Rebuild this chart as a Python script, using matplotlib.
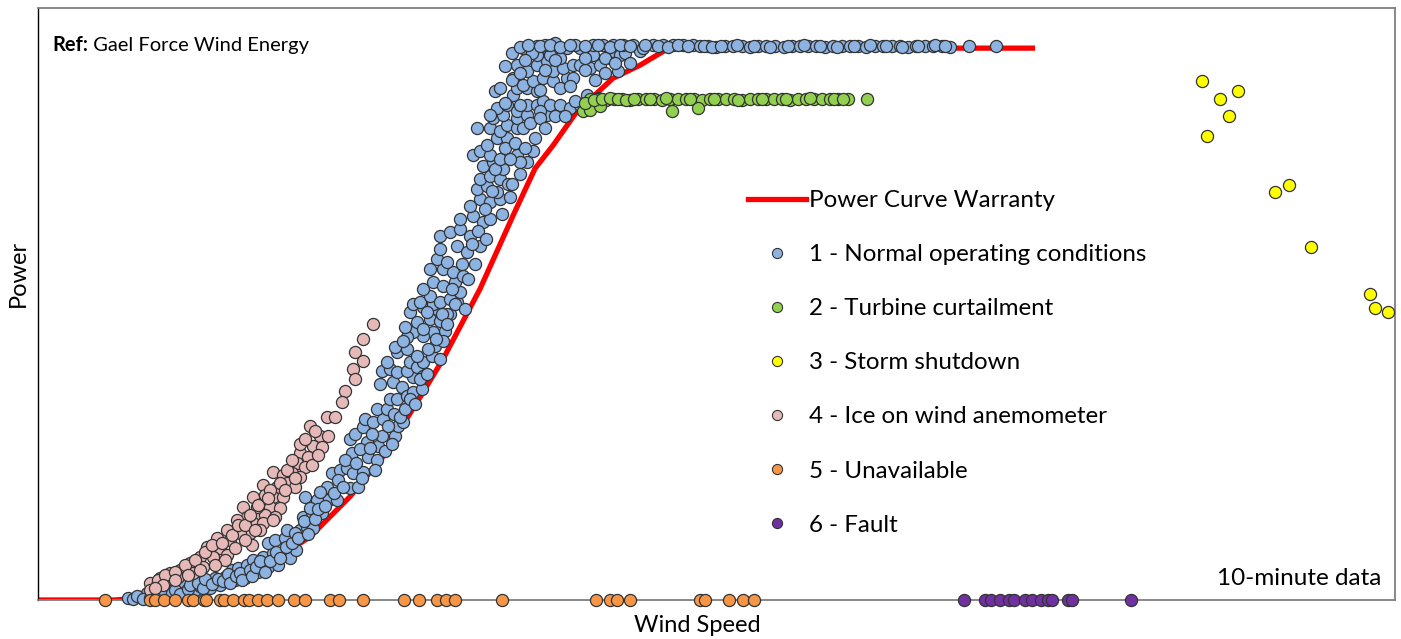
import numpy as np
import matplotlib
matplotlib.use('Agg')
import matplotlib.pyplot as plt
from matplotlib.lines import Line2D

plt.rcParams['font.family'] = ['Lato', 'DejaVu Sans']

# warranty power curve (wind speed m/s, power kW)
warranty_ws = [0.76, 2.3, 3.0, 4.0, 5.0, 5.8, 6.2, 7.0, 7.66, 8.34, 8.86, 9.6, 10.26,
               10.7, 11.06, 11.54, 12.26, 12.8, 13.34, 13.6, 20.7]
warranty_kw = [0, 0, 12, 56, 112, 200, 252, 412, 572, 788, 960, 1240, 1532,
               1720, 1812, 1948, 2080, 2132, 2196, 2200, 2200]

# 1 - normal operation: ramp-up part
normal_ws = [2.56, 2.66, 2.80, 2.94, 3.04, 3.14, 3.20, 3.34, 3.40, 3.54, 3.66, 3.70, 3.84, 3.90,
             4.00, 4.14, 4.20, 4.30, 4.40, 4.50, 4.64, 4.70, 4.76, 4.90, 4.94, 5.10, 5.16, 5.26,
             5.36, 5.46, 5.56, 5.64, 5.80, 5.06, 5.26, 5.46, 5.36, 5.50, 5.70, 5.74, 5.92, 6.00,
             6.14, 6.26, 6.06, 6.24, 6.44, 6.56, 6.74, 6.34, 6.10, 6.20, 6.54, 6.64, 6.80, 6.94,
             7.06, 7.26, 7.00, 7.16, 7.04, 7.00, 7.10, 7.26, 7.34, 7.36, 7.54, 7.56, 7.30, 7.46,
             7.66, 7.64, 7.90, 7.96, 8.06, 7.54, 7.74, 7.80, 7.94, 7.60, 7.86, 8.04, 8.14, 8.26,
             8.44, 8.26, 7.64, 7.80, 7.94, 8.14, 8.20, 8.34, 8.46, 8.46, 7.74, 7.94, 8.14, 8.34,
             8.64, 8.70, 8.90, 8.66, 8.46, 8.26, 8.14, 8.10, 8.34, 8.60, 8.80, 9.00, 8.74, 8.46,
             8.20, 8.26, 8.66, 9.14, 7.90, 8.06, 8.46, 8.86, 8.54, 8.94, 8.40, 8.60, 8.80, 9.00,
             9.20, 8.46, 8.66, 8.86, 9.10, 8.60, 8.86, 9.06, 9.26, 8.74, 8.94, 8.80, 9.14, 9.34,
             8.80, 9.00, 9.20, 9.40, 9.60, 9.20, 9.46, 9.66, 9.80, 9.40, 9.60, 9.80, 10.00, 10.20,
             9.54, 9.74, 9.94, 9.60, 9.80, 10.00, 10.16, 9.66, 9.86, 10.06, 9.46, 9.60, 9.80, 9.74,
             9.94, 10.14, 10.34, 10.54, 10.66, 10.40, 9.54, 9.80, 10.00, 10.14, 10.34, 9.86, 10.06,
             10.34, 9.94, 10.14, 10.34, 10.54, 9.80, 10.54, 10.74, 10.94, 10.86, 10.94, 11.00,
             11.20, 11.40, 11.60, 11.74, 10.40, 10.80, 9.90, 10.26, 10.34, 10.54, 10.74, 10.26,
             10.46, 10.66, 10.86, 11.06, 11.34, 11.46, 10.34, 10.54, 10.74, 10.94, 11.06, 11.26,
             11.46, 11.60, 11.80, 12.00, 12.20, 12.36, 11.86, 12.26, 12.40, 10.46, 10.74, 10.94,
             11.14, 11.34, 10.74, 11.00, 11.20, 11.60,
             2.74, 2.86, 3.00, 3.10, 3.24, 3.30, 3.44, 3.50, 3.60, 3.76, 3.80, 3.96, 4.06, 4.10,
             4.24, 4.36, 4.46, 4.56, 4.60, 4.72, 4.80, 4.84, 5.00, 5.04, 5.12, 5.20, 5.30, 5.40,
             5.52, 5.60, 5.72, 5.84, 5.90, 5.96, 6.08, 6.16, 6.30, 6.36, 6.50, 6.40, 6.68, 6.76,
             6.86, 6.90, 7.12, 7.20, 7.24, 7.40, 7.44, 7.50, 7.70, 7.76, 7.84, 7.88, 8.00, 8.10,
             8.20, 8.30, 8.40, 8.54, 8.56, 8.72, 8.80, 8.84, 8.94, 9.04, 9.10, 9.24, 9.30, 9.36,
             9.44, 9.50, 9.56, 9.70, 9.72, 9.84, 9.90, 10.00, 10.04, 10.10, 10.20, 10.24, 10.30,
             10.40, 10.46, 10.50, 10.60, 10.70, 10.80, 10.90, 11.10, 11.30, 11.50, 11.80, 11.96,
             10.10, 10.24, 10.40, 10.64, 10.90, 11.10, 11.20, 11.40, 11.70, 11.90, 12.10, 12.30,
             12.50, 12.60, 10.90, 11.10, 11.50, 11.70, 12.10, 10.80, 10.00, 10.10, 10.24, 10.50]
normal_kw = [8, 4, 12, 28, 16, 40, 24, 40, 20, 52, 60, 32, 68, 40,
             56, 72, 48, 88, 60, 92, 120, 80, 128, 88, 140, 148, 112, 168,
             132, 172, 140, 188, 168, 160, 172, 188, 228, 240, 248, 280, 200, 280,
             292, 288, 332, 348, 348, 400, 400, 400, 412, 368, 452, 508, 520, 528,
             508, 512, 448, 452, 588, 640, 660, 688, 628, 572, 560, 612, 720, 708,
             720, 652, 652, 692, 708, 760, 760, 800, 800, 860, 868, 848, 812, 828,
             840, 888, 912, 920, 908, 912, 948, 928, 948, 892, 948, 988, 1000, 972,
             972, 1012, 1072, 1068, 1052, 1068, 1048, 1088, 1108, 1120, 1112, 1140, 1160, 1168,
             1148, 1180, 1180, 1188, 1008, 1032, 1080, 1032, 1148, 1140, 1188, 1212, 1188, 1200,
             1228, 1240, 1268, 1252, 1268, 1320, 1320, 1308, 1292, 1360, 1348, 1400, 1412, 1388,
             1452, 1468, 1480, 1452, 1412, 1520, 1532, 1508, 1520, 1572, 1600, 1588, 1600, 1608,
             1640, 1652, 1628, 1680, 1692, 1680, 1660, 1732, 1748, 1720, 1772, 1788, 1772, 1812,
             1840, 1840, 1772, 1748, 1788, 1748, 1880, 1880, 1868, 1892, 1880, 1920, 1932,
             1920, 1960, 1972, 1948, 1932, 1932, 1972, 1972, 1960, 1988, 1932, 1972,
             1972, 1960, 1972, 2012, 1972, 1948, 2028, 2012, 2040, 2040, 2028, 2080,
             2052, 2068, 2080, 2068, 2080, 2080, 2132, 2108, 2132, 2148, 2108, 2120,
             2132, 2132, 2120, 2132, 2160, 2108, 2172, 2188, 2172, 2200, 2208, 2200,
             2188, 2200, 2172, 2172, 2160, 2200,
             16, 4, 8, 12, 12, 32, 28, 40, 24, 44, 60, 68, 48, 84,
             64, 84, 76, 104, 68, 96, 108, 80, 120, 96, 132, 156, 112, 156,
             192, 168, 212, 228, 268, 248, 316, 264, 324, 364, 376, 432, 428, 480,
             452, 560, 548, 600, 488, 604, 660, 520, 592, 692, 620, 740, 728, 760,
             800, 780, 880, 900, 1000, 1040, 960, 1140, 1100, 1240, 1180, 1340, 1160, 1280,
             1420, 1340, 1472, 1560, 1440, 1632, 1720, 1760, 1540, 1800, 1760, 1660, 1820,
             1700, 1880, 1800, 1900, 1840, 1920, 1880, 1928, 1928, 1988, 1972, 2000,
             1980, 2072, 2100, 2180, 2112, 2152, 2040, 2048, 2112, 2072, 2160, 2140,
             2180, 2140, 2212, 2220, 2212, 2160, 2100, 2032, 2040, 2128, 2180, 2152]

# 1 - normal operation: at rated power
rated_ws = [11.86, 12.06, 12.26, 12.46, 12.66, 12.80, 12.86, 13.06, 13.26, 13.46, 13.66, 13.86,
            14.00, 14.16, 14.32, 14.50, 14.66, 14.84, 15.00, 15.16, 15.32, 15.50, 15.68, 15.84,
            16.00, 16.16, 16.32, 16.50, 16.66, 16.84, 17.00, 17.16, 17.32, 17.50, 17.66, 17.84,
            18.00, 18.16, 18.32, 18.50, 18.66, 18.84, 19.00, 19.38, 19.92,
            10.40, 10.56, 10.80, 11.00, 11.20, 11.40, 11.70, 11.96, 12.20, 12.40, 12.60, 12.90,
            13.16, 13.36, 13.56, 13.76, 14.08, 14.24, 14.42, 14.74, 15.08, 15.40, 15.76, 16.08,
            16.40, 16.74, 17.08, 17.40, 17.72, 18.04, 18.36, 18.70, 18.90]
rated_kw = [2212, 2212, 2212, 2212, 2212, 2188, 2200, 2212, 2212, 2212, 2212, 2212,
            2210, 2210, 2206, 2210, 2210, 2210, 2206, 2210, 2210, 2210, 2206, 2210,
            2210, 2210, 2210, 2206, 2210, 2210, 2210, 2210, 2206, 2210, 2210, 2210,
            2210, 2206, 2210, 2210, 2210, 2210, 2206, 2210, 2210,
            2204, 2212, 2208, 2212, 2204, 2212, 2208, 2212, 2204, 2212, 2208, 2212,
            2210, 2206, 2212, 2210, 2210, 2206, 2210, 2212, 2210, 2206, 2210, 2212,
            2210, 2206, 2210, 2212, 2210, 2206, 2210, 2212, 2210]

# 2 - curtailment
curt_ws = [11.80, 11.96, 12.12, 12.28, 12.44, 12.60, 12.76, 12.92, 13.08, 13.24, 13.40, 13.56,
           13.72, 13.88, 14.04, 14.20, 14.36, 14.52, 14.68, 14.84, 15.00, 15.16, 15.32, 15.48,
           15.64, 15.80, 15.96, 16.12, 16.28, 16.44, 16.60, 16.76, 16.96, 17.34,
           11.66, 11.80, 12.00, 13.44, 13.96, 11.70,
           11.88, 12.04, 12.20, 12.36, 12.52, 12.68, 13.00, 13.32, 13.80, 14.28, 14.76, 15.24,
           15.72, 16.20, 16.68, 16.86]
curt_kw = [1996, 1996, 1992, 1996, 1996, 1992, 1996, 1996, 1996, 1992, 1996, 1996,
           1996, 1996, 1992, 1996, 1996, 1996, 1996, 1992, 1996, 1996, 1996, 1996,
           1996, 1992, 1996, 1996, 1996, 1996, 1996, 1996, 1996, 1996,
           1948, 1952, 1968, 1948, 1960, 1980,
           1992, 1996, 2000, 1996, 1992, 1996, 1996, 2000, 1996, 1996, 1992, 1996,
           1996, 2000, 1996, 1996]

# 3 - storm shutdown
storm_ws = [24.04, 24.76, 24.40, 24.58, 24.14, 25.78, 25.50, 26.22, 27.40, 27.50, 27.76]
storm_kw = [2068, 2028, 1996, 1928, 1848, 1656, 1628, 1408, 1220, 1164, 1148]

# 4 - ice on anemometer
ice_ws = [7.46, 7.26, 7.10, 7.26, 7.06, 7.10, 6.90, 6.84, 6.54, 6.70, 6.20, 6.40, 6.56, 6.26,
          6.44, 6.00, 6.16, 5.94, 6.10, 6.24, 5.84, 6.00, 5.46, 5.66, 5.74, 5.90, 5.54, 5.26,
          5.46, 5.66, 5.20, 5.40, 5.60, 5.14, 5.30, 5.50, 5.06, 5.26, 5.46, 5.00, 5.20, 5.04,
          5.06, 4.86, 5.14, 4.94, 4.74, 4.54, 4.80, 4.34, 4.60, 4.14, 4.40, 4.00, 4.26, 4.54,
          3.80, 4.06, 3.60, 3.86, 3.40, 3.20, 3.00, 3.14, 3.34, 3.56,
          3.00, 3.16, 3.30, 3.50, 3.70, 3.90, 4.10, 4.24, 4.44, 4.64, 4.76, 4.90, 5.00, 5.16,
          5.30, 5.40, 5.60, 5.74, 5.84, 6.00, 6.10, 6.30, 6.36, 5.90, 5.70, 5.36, 5.10, 4.90,
          4.70, 4.50, 4.30, 4.00, 3.76, 3.50, 3.26, 3.10]
ice_kw = [1100, 1040, 988, 952, 920, 880, 832, 788, 728, 728, 692, 652, 652, 612,
          608, 588, 572, 548, 532, 540, 508, 492, 512, 500, 468, 452, 452, 460,
          412, 412, 400, 372, 368, 348, 340, 332, 308, 308, 320, 268, 280, 220,
          412, 372, 372, 332, 320, 280, 268, 248, 240, 212, 208, 172, 172, 180,
          148, 132, 120, 108, 108, 88, 68, 60, 80, 92,
          40, 80, 100, 112, 140, 160, 192, 220, 228, 260, 300, 300, 340, 380,
          420, 440, 468, 520, 560, 620, 640, 672, 580, 488, 440, 408, 280, 240,
          208, 160, 140, 120, 100, 80, 60, 48]

# 5 - unavailable, 6 - fault (zero output)
unavail_ws = [2.10, 3.00, 3.10, 3.28, 3.50, 3.76, 3.86, 4.08, 4.12, 4.40, 4.48, 4.66, 4.88,
              4.98, 5.16, 5.34, 5.56, 5.88, 6.10, 6.60, 6.78, 7.26, 8.08, 8.38, 8.74, 8.92,
              9.10, 10.04, 11.92, 12.20, 12.34, 12.60, 14.00, 14.10, 14.58, 14.86, 15.08]
fault_ws = [19.28, 19.70, 19.82, 20.00, 20.18, 20.28, 20.50, 20.64, 20.82, 20.96, 21.04,
            21.36, 21.44, 22.62]

labels = ['Power Curve Warranty', '1 - Normal operating conditions', '2 - Turbine curtailment',
          '3 - Storm shutdown', '4 - Ice on wind anemometer', '5 - Unavailable', '6 - Fault']
colors = ['#8DB3E2', '#92D050', '#FFFF00', '#E6B9B8', '#F79646', '#7030A0']

W, H = 1401, 639
fig = plt.figure(figsize=(W / 100, H / 100), dpi=100)
ax = fig.add_axes([38 / W, 39 / H, 1357 / W, 592 / H])

ec = '#333333'
kw = dict(s=76, edgecolors=ec, linewidths=0.9, zorder=3, clip_on=False)

ax.plot(warranty_ws, warranty_kw, color='#FF0000', lw=3.8, zorder=2, solid_capstyle='butt')
ax.scatter(normal_ws, normal_kw, c=colors[0], **kw)
ax.scatter(rated_ws, rated_kw, c=colors[0], **kw)
ax.scatter(ice_ws, ice_kw, c=colors[3], **kw)
ax.scatter(curt_ws, curt_kw, c=colors[1], **kw)
ax.scatter(storm_ws, storm_kw, c=colors[2], **kw)
ax.scatter(unavail_ws, np.zeros(len(unavail_ws)), c=colors[4], **kw)
ax.scatter(fault_ws, np.zeros(len(fault_ws)), c=colors[5], **kw)

ax.set_xlim(0.76, 27.9)
ax.set_ylim(0, 2360)
ax.set_xticks([]); ax.set_yticks([])
for side in ['top', 'right', 'bottom']:
    ax.spines[side].set_color('#7f7f7f')
    ax.spines[side].set_linewidth(1.3)
ax.spines['left'].set_color('black')
ax.spines['left'].set_linewidth(1.0)

handles = [Line2D([], [], color='#FF0000', lw=3.8)]
for c in colors:
    handles.append(Line2D([], [], ls='', marker='o', ms=7.3, mfc=c, mec=ec, mew=0.8))
leg = ax.legend(handles, labels, loc='upper left', bbox_to_anchor=(0.523, 0.6926),
                frameon=False, fontsize=17.4, borderpad=0, borderaxespad=0,
                handlelength=2.4, handletextpad=0.15, labelspacing=1.37)

t = ax.text(0.0103, 0.9375, 'Ref:', transform=ax.transAxes, fontsize=14.5,
            fontweight='bold', va='center', ha='left')
ax.annotate(' Gael Force Wind Energy', xy=(1, 0.5), xycoords=t, va='center',
            ha='left', fontsize=14.5)
ax.text(0.9897, 0.037, '10-minute data', transform=ax.transAxes, fontsize=17.5,
        ha='right', va='center')

fig.text(697 / W, 1 - 626 / H, 'Wind Speed', ha='center', va='center', fontsize=17)
fig.text(18 / W, 1 - 273 / H, 'Power', ha='center', va='center', fontsize=17, rotation=90)

fig.savefig('out.png', dpi=100)
